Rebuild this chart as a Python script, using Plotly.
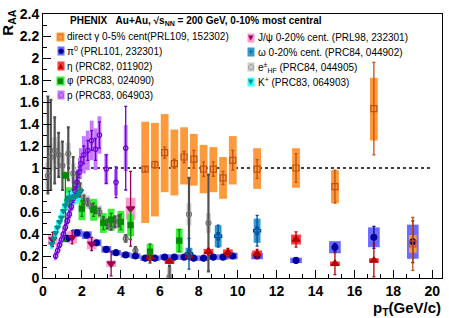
import plotly.graph_objects as go

# ---------------- data ----------------
# direct gamma, 0-5%
gam_pt = [5.25, 5.75, 6.25, 6.75, 7.25, 7.75, 8.25, 8.75, 9.25, 9.75, 11, 13, 15, 17, 19]
gam_raa = [0.99, 1.03, 1.14, 1.04, 1.10, 1.08, 0.99, 0.99, 0.91, 1.07, 0.99, 1.00, 0.83, 1.54, 0.31]
gam_stat = [0.02, 0.03, 0.05, 0.04, 0.05, 0.08, 0.065, 0.065, 0.06, 0.09, 0.085, 0.13, 0.15, 0.42, 0.24]
gam_sys_hi = [1.42, 1.41, 1.49, 1.35, 1.37, 1.31, 1.21, 1.19, 1.10, 1.29, 1.18, 1.18, 0.98, 1.82, 0.39]
gam_sys_lo = [0.50, 0.56, 0.78, 0.75, 0.85, 0.84, 0.77, 0.78, 0.72, 0.85, 0.81, 0.82, 0.68, 1.25, 0.23]

# pi0
pi0_pt = [1.25, 1.75, 2.25, 2.75, 3.25, 3.75, 4.25, 4.75, 5.25, 5.75, 6.25, 6.75, 7.25, 7.75,
          8.25, 8.75, 9.25, 9.75, 11, 13, 15, 17, 19]
pi0_raa = [0.36, 0.41, 0.39, 0.32, 0.26, 0.23, 0.21, 0.20, 0.18, 0.18, 0.19, 0.19, 0.19, 0.18,
           0.18, 0.19, 0.19, 0.20, 0.20, 0.16, 0.28, 0.37, 0.33]
pi0_stat = [0.005, 0.005, 0.005, 0.005, 0.005, 0.005, 0.005, 0.005, 0.005, 0.005, 0.005, 0.005,
            0.005, 0.005, 0.006, 0.007, 0.008, 0.01, 0.015, 0.02, 0.035, 0.10, 0.19]
pi0_sys = [0.035, 0.035, 0.035, 0.03, 0.03, 0.025, 0.025, 0.025, 0.025, 0.025, 0.025, 0.025,
           0.025, 0.025, 0.025, 0.025, 0.025, 0.03, 0.03, 0.025, 0.055, 0.09, 0.155]

# eta
eta_pt = [5.5, 6.5, 7.5, 8.5, 9.5, 11, 13, 15, 17]
eta_raa = [0.19, 0.15, 0.20, 0.24, 0.23, 0.22, 0.35, 0.13, 0.16]
eta_stat = [0.03, 0.02, 0.03, 0.03, 0.04, 0.04, 0.07, 0.10, 0.15]
eta_sys = [0.02, 0.02, 0.025, 0.025, 0.03, 0.03, 0.045, 0.02, 0.02]

# phi
phi_pt = [1.15, 1.35, 2.0, 2.6, 3.1, 3.5, 4.0, 4.5, 5.5, 7.0]
phi_raa = [0.93, 0.72, 0.63, 0.62, 0.50, 0.53, 0.51, 0.48, 0.24, 0.34]
phi_stat_up = [0.03, 0.07, 0.07, 0.06, 0.06, 0.06, 0.07, 0.13, 0.07, 0.10]
phi_stat_dn = [0.59, 0.07, 0.07, 0.06, 0.06, 0.06, 0.07, 0.13, 0.07, 0.10]
phi_sys = [0.0, 0.105, 0.105, 0.10, 0.09, 0.10, 0.10, 0.10, 0.07, 0.11]

# protons
p_pt = [0.65, 0.75, 0.85, 0.95, 1.05, 1.15, 1.25, 1.35, 1.45, 1.55, 1.65, 1.75, 1.85, 1.95,
        2.1, 2.3, 2.5, 2.7, 2.9, 3.25, 3.75, 4.25]
p_raa = [0.20, 0.25, 0.30, 0.35, 0.40, 0.46, 0.52, 0.58, 0.65, 0.72, 0.79, 0.87, 0.96, 1.04,
         1.12, 1.16, 1.25, 1.17, 1.30, 0.99, 0.87, 1.18]
p_stat = [0.02, 0.02, 0.02, 0.02, 0.02, 0.025, 0.025, 0.03, 0.03, 0.035, 0.04, 0.045, 0.05, 0.06,
          0.08, 0.09, 0.09, 0.10, 0.12, 0.13, 0.14, 0.38]
p_sys = [0.04, 0.045, 0.05, 0.055, 0.06, 0.065, 0.07, 0.08, 0.09, 0.10, 0.11, 0.12, 0.13, 0.14,
         0.17, 0.18, 0.18, 0.19, 0.17, 0.14, 0.12, 0.21]

# J/psi, 0-20%
jpsi_pt = [0.5, 1.5, 2.5, 3.5, 4.5]
jpsi_raa = [0.35, 0.37, 0.31, 0.13, 0.63]
jpsi_stat = [0.065, 0.06, 0.06, 0.11, 0.34]
jpsi_sys = [0.05, 0.055, 0.05, 0.03, 0.10]

# omega, 0-20%
omg_pt = [7.5, 9.0, 11.0]
omg_raa = [0.22, 0.38, 0.43]
omg_stat = [0.14, 0.10, 0.14]
omg_sys = [0.055, 0.10, 0.11]

# heavy-flavour electrons
ehf_pt = [0.25, 0.4, 0.6, 0.8, 1.0, 1.3, 1.55, 1.75, 1.9, 2.1, 2.3, 2.5, 2.7, 2.9, 3.1, 3.3,
          3.5, 3.7, 3.9, 4.25, 4.75, 5.5, 6.5, 7.5, 8.5]
ehf_raa = [0.93, 1.10, 1.16, 1.12, 1.02, 1.13, 0.95, 0.86, 0.80, 0.71, 0.69, 0.64, 0.62, 0.60,
           0.52, 0.49, 0.48, 0.51, 0.52, 0.36, 0.25, 0.19, 0.01, 0.58, 0.50]
ehf_stat_up = [0.72, 0.52, 0.30, 0.20, 0.22, 0.24, 0.15, 0.10, 0.06, 0.04, 0.03, 0.03, 0.03, 0.03,
               0.03, 0.04, 0.04, 0.05, 0.05, 0.03, 0.03, 0.05, 0.10, 0.33, 0.44]
ehf_stat_dn = [0.16, 0.30, 0.30, 0.20, 0.22, 0.24, 0.15, 0.10, 0.06, 0.04, 0.03, 0.03, 0.03, 0.03,
               0.03, 0.04, 0.04, 0.05, 0.05, 0.03, 0.03, 0.05, 0.10, 0.33, 0.44]
ehf_sys = [0.12, 0.12, 0.12, 0.12, 0.11, 0.10, 0.09, 0.08, 0.07, 0.06, 0.06, 0.06, 0.06, 0.06,
           0.05, 0.05, 0.05, 0.05, 0.05, 0.04, 0.03, 0.03, 0.09, 0.10, 0.09]

# K+
kp_pt = [0.45, 0.55, 0.65, 0.75, 0.85, 0.95, 1.05, 1.15, 1.25, 1.35, 1.45, 1.55, 1.65, 1.75, 1.85, 1.95]
kp_raa = [0.31, 0.36, 0.41, 0.46, 0.51, 0.55, 0.61, 0.66, 0.70, 0.73, 0.73, 0.74, 0.74, 0.75, 0.77, 0.79]
kp_stat = [0.01] * 16
kp_sys = [0.05, 0.05, 0.055, 0.055, 0.06, 0.06, 0.065, 0.065, 0.07, 0.07, 0.07, 0.07, 0.075, 0.075, 0.08, 0.08]

# ---------------- figure ----------------
FONT = "Liberation Sans, Arial, Helvetica, sans-serif"
fig = go.Figure()


def add_boxes(x, lo, hi, width, color):
    fig.add_trace(go.Bar(
        x=x, y=[h - l for h, l in zip(hi, lo)], base=lo, width=width,
        marker=dict(color=color, line=dict(width=0)),
        showlegend=False, hoverinfo="skip"))


def sym(y, s):
    return [a - b for a, b in zip(y, s)], [a + b for a, b in zip(y, s)]


def add_points(x, y, up, dn, color, symbol, size, ecolor, ethick=1.3, lw=1.2):
    fig.add_trace(go.Scatter(
        x=x, y=y, mode="markers",
        marker=dict(symbol=symbol, size=size, color=color, line=dict(color=color, width=lw)),
        error_y=dict(type="data", symmetric=False, array=up, arrayminus=dn,
                     color=ecolor, thickness=ethick, width=1.5),
        showlegend=False, hoverinfo="skip"))


C = dict(
    gam=("#c4500f", "#ff9a3c"), pi0=("#00009c", "#6b6bff"), eta=("#b80000", "#ff3838"),
    phi=("#008a00", "#3def3d"), p=("#6a00d6", "#c67aff"), jpsi=("#9c0058", "#ff9dcc"),
    omg=("#004e9a", "#3399cc"), ehf=("#505050", "#cdcdcd"), kp=("#008f8f", "#3cffff"),
)

# systematic boxes
lo, hi = sym(ehf_raa, ehf_sys)
add_boxes(ehf_pt, lo, hi, 0.25, C["ehf"][1])
lo, hi = sym(pi0_raa, pi0_sys)
add_boxes(pi0_pt, lo, hi, [0.5 if v < 10 else 0.6 for v in pi0_pt], C["pi0"][1])
lo, hi = sym(jpsi_raa, jpsi_sys)
add_boxes(jpsi_pt, lo, hi, 0.5, C["jpsi"][1])
lo, hi = sym(eta_raa, eta_sys)
add_boxes(eta_pt, lo, hi, 0.5, C["eta"][1])
lo, hi = sym(omg_raa, omg_sys)
add_boxes(omg_pt, lo, hi, 0.35, C["omg"][1])
lo, hi = sym(phi_raa, phi_sys)
add_boxes(phi_pt, lo, hi, 0.35, C["phi"][1])
lo, hi = sym(p_raa, p_sys)
add_boxes(p_pt, lo, hi, [0.1 if v < 2 else 0.2 for v in p_pt], C["p"][1])
lo, hi = sym(kp_raa, kp_sys)
add_boxes(kp_pt, lo, hi, 0.1, C["kp"][1])
add_boxes(gam_pt, gam_sys_lo, gam_sys_hi, 0.4, C["gam"][1])

# points with statistical errors
add_points(ehf_pt, ehf_raa, ehf_stat_up, ehf_stat_dn, "#6e6e6e", "circle-open", 5, C["ehf"][0], ethick=2.2)
add_points(pi0_pt, pi0_raa, pi0_stat, pi0_stat, C["pi0"][0], "circle", 6, C["pi0"][0])
add_points(jpsi_pt, jpsi_raa, jpsi_stat, jpsi_stat, C["jpsi"][0], "triangle-down", 7, C["jpsi"][0])
add_points(eta_pt, eta_raa, eta_stat, eta_stat, C["eta"][0], "triangle-up", 7, C["eta"][0])
add_points(omg_pt, omg_raa, omg_stat, omg_stat, C["omg"][0], "cross-open", 6, C["omg"][0])
add_points(phi_pt, phi_raa, phi_stat_up, phi_stat_dn, C["phi"][0], "square", 5, C["phi"][0])
add_points(p_pt, p_raa, p_stat, p_stat, C["p"][0], "circle-open", 4.5, C["p"][0])
add_points(kp_pt, kp_raa, kp_stat, kp_stat, C["kp"][0], "triangle-down", 5, C["kp"][0])
add_points(gam_pt, gam_raa, gam_stat, gam_stat, C["gam"][0], "square-open", 6, C["gam"][0])

# unity reference line
fig.add_shape(type="line", xref="x", yref="y", x0=0, x1=20, y0=1, y1=1,
              line=dict(color="black", width=1.6, dash="dot"), layer="below")

# ---------------- text ----------------
ann = []
ann.append(dict(xref="paper", yref="paper", x=0.062, y=0.975, xanchor="left", yanchor="middle",
                text="PHENIX\u00a0\u00a0\u00a0Au+Au, \u221as<sub>NN</sub> = 200 GeV, 0-10% most central",
                showarrow=False, font=dict(family=FONT, size=10, weight="bold", color="black")))

legend_left = [
    ("\u25a1", "gam", "direct \u03b3 0-5% cent(PRL109, 152302)"),
    ("\u25cf", "pi0", "\u03c0<sup>0</sup> (PRL101, 232301)"),
    ("\u25b2", "eta", "\u03b7 (PRC82, 011902)"),
    ("\u25a0", "phi", "\u03c6 (PRC83, 024090)"),
    ("\u25cb", "p", "p (PRC83, 064903)"),
]
legend_right = [
    ("\u25bc", "jpsi", "J/\u03c8 0-20% cent. (PRL98, 232301)"),
    ("+", "omg", "\u03c9 0-20% cent. (PRC84, 044902)"),
    ("\u25cb", "ehf", "e<sup>\u00b1</sup><sub>HF</sub> (PRC84, 044905)"),
    ("\u25bc", "kp", "K<sup>+</sup> (PRC83, 064903)"),
]
for col, (entries, gx, tx, y0) in enumerate([(legend_left, 0.045, 0.056, 0.914),
                                             (legend_right, 0.522, 0.533, 0.910)]):
    for i, (glyph, key, label) in enumerate(entries):
        yy = y0 - i * 0.0555
        ann.append(dict(xref="paper", yref="paper", x=gx, y=yy, xanchor="center", yanchor="middle",
                        text=glyph, showarrow=False, bgcolor=C[key][1], borderpad=0,
                        font=dict(family="DejaVu Sans", size=7, color=C[key][0])))
        ann.append(dict(xref="paper", yref="paper", x=tx, y=yy, xanchor="left", yanchor="middle",
                        text=label, showarrow=False,
                        font=dict(family=FONT, size=10, color="black")))

ann.append(dict(xref="paper", yref="paper", x=-0.087, y=1.025, xanchor="center", yanchor="top",
                text="R<sub>AA</sub>", textangle=-90, showarrow=False,
                font=dict(family=FONT, size=15, weight="bold", color="black")))
ann.append(dict(xref="paper", yref="paper", x=1.0, y=-0.075, xanchor="right", yanchor="top",
                text="p<sub>T</sub>(GeV/c)", showarrow=False, borderpad=0,
                font=dict(family=FONT, size=15, weight="bold", color="black")))

axis_common = dict(ticks="inside", tickwidth=1, tickcolor="black", ticklen=8,
                   showline=True, linecolor="black", linewidth=1, mirror=True,
                   showgrid=False, zeroline=False,
                   tickfont=dict(family=FONT, size=14, weight="bold", color="black"))

fig.update_layout(
    width=449, height=318,
    margin=dict(l=43, r=6, t=12, b=40),
    paper_bgcolor="white", plot_bgcolor="white",
    barmode="overlay", showlegend=False,
    font=dict(family=FONT, color="black"),
    annotations=ann,
    xaxis=dict(range=[0, 20.5], tick0=0, dtick=2,
               minor=dict(tick0=0, dtick=2 / 3, ticks="inside", ticklen=4, tickcolor="black", showgrid=False),
               **axis_common),
    yaxis=dict(range=[0, 2.4], tick0=0, dtick=0.2,
               minor=dict(tick0=0, dtick=0.1, ticks="inside", ticklen=4, tickcolor="black", showgrid=False),
               **axis_common),
)

fig.write_html("out.html", config={"displayModeBar": False},
               post_script="document.body.style.margin='0px';")
